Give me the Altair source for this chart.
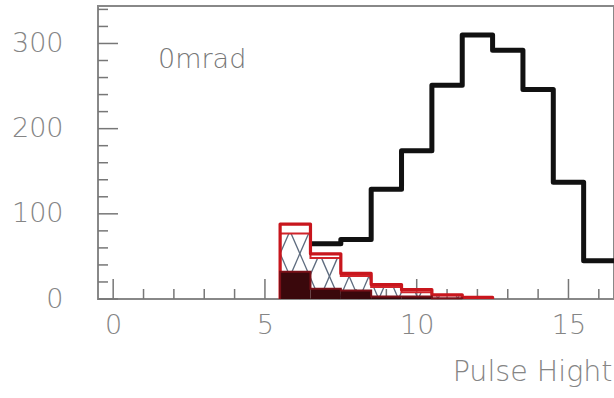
import altair as alt
import pandas as pd
import numpy as np

# ---- data ----
total_centers = [7, 8, 9, 10, 11, 12, 13, 14, 15, 16]
total_counts = [65, 70, 129, 174, 251, 310, 292, 246, 137, 45]

red_centers = [6, 7, 8, 9, 10, 11, 12]
red_counts = [88, 53, 30, 17, 11, 5, 2]

hatch_centers = [6, 7, 8, 9, 10, 11, 12]
hatch_counts = [77, 48, 27, 14, 8, 4, 1.5]

dark_centers = [6, 7, 8, 9, 10, 11]
dark_counts = [32, 12, 10, 3, 3, 1]

x_major = [0, 5, 10, 15]
x_minor = [v for v in range(0, 17) if v not in x_major]
y_major = [0, 100, 200, 300]
y_minor = [v for v in range(20, 341, 20) if v not in y_major]

label_text = "0mrad"
x_title = "Pulse Hight"

# ---- helpers ----
W, H = 516, 293
GRAY = "#858585"
FONT = "DejaVu Sans"

def step_df(centers, counts, close=True):
    pts = []
    if close:
        pts.append((centers[0] - 0.5, 0))
    for c, v in zip(centers, counts):
        pts.append((c - 0.5, v))
    pts.append((centers[-1] + 0.5, counts[-1]))
    if close:
        pts.append((centers[-1] + 0.5, 0))
    return pd.DataFrame({"x": [p[0] for p in pts], "y": [p[1] for p in pts], "i": range(len(pts))})

xs = alt.Scale(domain=[-0.5, 16.5], nice=False, zero=False)
ys = alt.Scale(domain=[0, 344], nice=False, zero=False)

xaxis = alt.Axis(values=x_major, ticks=False, domain=False, grid=False, labelPadding=13,
                 labelFontSize=27, labelFont=FONT, labelColor=GRAY, labelFontWeight=200,
                 title=x_title, titleFont=FONT, titleFontSize=28.5, titleFontWeight=200,
                 titleColor=GRAY, titleX=514, titleY=81, titleAlign="right",
                 titleBaseline="alphabetic", titleAnchor="end")
yaxis = alt.Axis(values=y_major, ticks=False, domain=False, grid=False, labelPadding=35,
                 labelFontSize=27, labelFont=FONT, labelColor=GRAY, labelFontWeight=200,
                 title="")

def X(f="x"):
    return alt.X(f"{f}:Q", scale=xs, axis=xaxis)

def Y(f="y"):
    return alt.Y(f"{f}:Q", scale=ys, axis=yaxis)

# black total histogram
black = alt.Chart(step_df(total_centers, total_counts, close=False)).mark_line(
    interpolate="step-after", color="#111111", strokeWidth=5, strokeJoin="round", clip=True
).encode(x=X(), y=Y(), order="i:Q")

# red outline histogram
red = alt.Chart(step_df(red_centers, red_counts)).mark_line(
    interpolate="step-after", color="#c8161d", strokeWidth=3.2, strokeJoin="round"
).encode(x=X(), y=Y(), order="i:Q")

# hatch lattice clipped to the hatched histogram
slope, step = 82.0, 0.65
segs = []
for c, h in zip(hatch_centers, hatch_counts):
    x0, x1 = c - 0.5, c + 0.5
    for off in np.arange(4.85, 14.0, step):
        a, b = max(x0, off), min(x1, off + h / slope)
        if b > a:
            segs.append((a, slope * (a - off), b, slope * (b - off)))
        a, b = max(x0, off - h / slope), min(x1, off)
        if b > a:
            segs.append((a, slope * (off - a), b, slope * (off - b)))
hatch_df = pd.DataFrame(segs, columns=["x", "y", "x2", "y2"])
hatch = alt.Chart(hatch_df).mark_rule(color="#5d6b7e", strokeWidth=1.3).encode(
    x=X(), y=Y(), x2="x2:Q", y2="y2:Q")

hatch_outline = alt.Chart(step_df(hatch_centers, hatch_counts)).mark_line(
    interpolate="step-after", color="#d0242a", strokeWidth=2
).encode(x=X(), y=Y(), order="i:Q")

# dark filled histogram
dark_df = step_df(dark_centers, dark_counts)
dark = alt.Chart(dark_df).mark_area(
    interpolate="step-after", color="#3a080c"
).encode(x=X(), y=Y(), order="i:Q")
dark_edge = alt.Chart(dark_df).mark_line(
    interpolate="step-after", color="#7a1018", strokeWidth=2
).encode(x=X(), y=Y(), order="i:Q")

# inward ticks
def xticks(vals, length):
    return alt.Chart(pd.DataFrame({"x": vals})).mark_rule(color="#777777", strokeWidth=1.5).encode(
        x=X(), y=alt.value(H), y2=alt.value(H - length))

def yticks(vals, length):
    return alt.Chart(pd.DataFrame({"y": vals})).mark_rule(color="#777777", strokeWidth=1.5).encode(
        y=Y(), x=alt.value(0), x2=alt.value(length))

txt = alt.Chart(pd.DataFrame({"t": [label_text]})).mark_text(
    align="left", baseline="alphabetic", fontSize=27, font=FONT, fontWeight=200, color="#777777"
).encode(x=alt.value(60), y=alt.value(62), text="t:N")

chart = alt.layer(
    xticks(x_minor, 10), xticks(x_major, 20), yticks(y_minor, 10), yticks(y_major, 20),
    black, hatch, hatch_outline, red, dark, dark_edge, txt
).properties(
    width=W, height=H,
    padding={"left": 98, "top": 6, "right": 0, "bottom": 99},
    autosize=alt.AutoSizeParams(type="none"),
    background="#ffffff",
).configure_view(stroke="#888888", strokeWidth=2)

chart.save("out.html", embed_options={"renderer": "svg", "actions": False})
